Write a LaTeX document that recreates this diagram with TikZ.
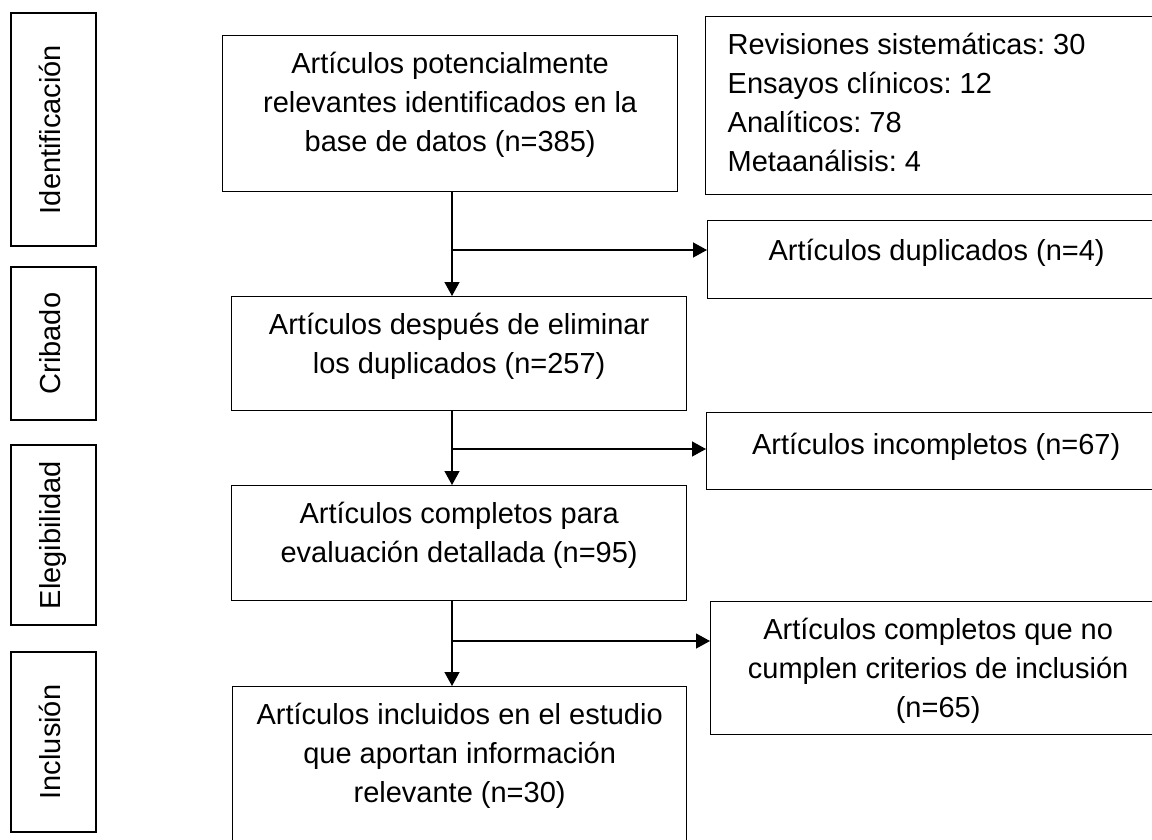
\documentclass[tikz,border=0pt]{standalone}
\usepackage{fontspec}
\setmainfont{Liberation Sans}
\frenchspacing
\usetikzlibrary{positioning,arrows.meta}

\tikzset{
  stage/.style={draw, rotate=90, minimum height=85pt, inner sep=0pt, text height=21pt, text depth=7pt},
  box/.style={draw, anchor=north west, inner sep=0pt},
  txt/.style={align=center, inner sep=0pt, execute at begin node=\strut},
  arr/.style={-{Triangle[length=14pt,width=15pt]}},
}

\begin{document}
\begin{tikzpicture}[x=1pt,y=-1pt,line width=1.3pt,font=\fontsize{29}{39}\selectfont]
  \useasboundingbox (0,0) rectangle (1152,839);
  \clip (0,0) rectangle (1152,839);
  % etapas
  \node[stage, minimum width=233pt] (ident) at (53.5,129.5) {Identificación};
  \node[stage, minimum width=153pt] (crib) at (53.5,343.5) {Cribado};
  \node[stage, minimum width=180pt] (eleg) at (53.5,535) {Elegibilidad};
  \node[stage, minimum width=180pt] (incl) at (53.5,742) {Inclusión};
  % cajas centrales
  \node[box, minimum width=455pt, minimum height=156pt] (potenc) at (222,35) {};
  \node[box, minimum width=455pt, minimum height=114pt] (despues) at (231,296) {};
  \node[box, minimum width=455pt, minimum height=115pt] (complet) at (231,485) {};
  \node[box, minimum width=454pt, minimum height=170pt] (incluid) at (232,686) {};
  \node[txt, below=16pt of potenc.north] (potenc-t) {Artículos potencialmente\\relevantes identificados en la\\base de datos (n=385)};
  \node[txt, below=16pt of despues.north] (despues-t) {Artículos después de eliminar\\los duplicados (n=257)};
  \node[txt, below=16pt of complet.north] (complet-t) {Artículos completos para\\evaluación detallada (n=95)};
  \node[txt, below=16pt of incluid.north] (incluid-t) {Artículos incluidos en el estudio\\que aportan información\\relevante (n=30)};
  % cajas laterales
  \node[box, minimum width=460pt, minimum height=178pt] (tipos) at (705,16) {};
  \node[box, minimum width=458pt, minimum height=78pt] (dupl) at (707,220) {};
  \node[box, minimum width=459pt, minimum height=77pt] (incomp) at (706,412) {};
  \node[box, minimum width=455pt, minimum height=133pt] (nocumpl) at (710,601) {};
  \node[txt, align=left, below right=16pt and 22pt of tipos.north west] (tipos-t) {Revisiones sistemáticas: 30\\Ensayos clínicos: 12\\Analíticos: 78\\Metaanálisis: 4};
  \node[txt, below=13pt of dupl.north] (dupl-t) {Artículos duplicados (n=4)};
  \node[txt, below=15pt of incomp.north] (incomp-t) {Artículos incompletos (n=67)};
  \node[txt, below=16pt of nocumpl.north] (nocumpl-t) {Artículos completos que no\\cumplen criterios de inclusión\\(n=65)};
  % flechas
  \coordinate (spine) at (452,0);
  \draw[arr] (potenc.south -| spine) -- (despues.north -| spine);
  \draw[arr] (despues.south -| spine) -- (complet.north -| spine);
  \draw[arr] (complet.south -| spine) -- (incluid.north -| spine);
  \coordinate (j1) at (452,250);
  \coordinate (j2) at (452,449);
  \coordinate (j3) at (452,641);
  \draw[arr] (j1) -- (j1 -| dupl.west);
  \draw[arr] (j2) -- (j2 -| incomp.west);
  \draw[arr] (j3) -- (j3 -| nocumpl.west);
\end{tikzpicture}
\end{document}
